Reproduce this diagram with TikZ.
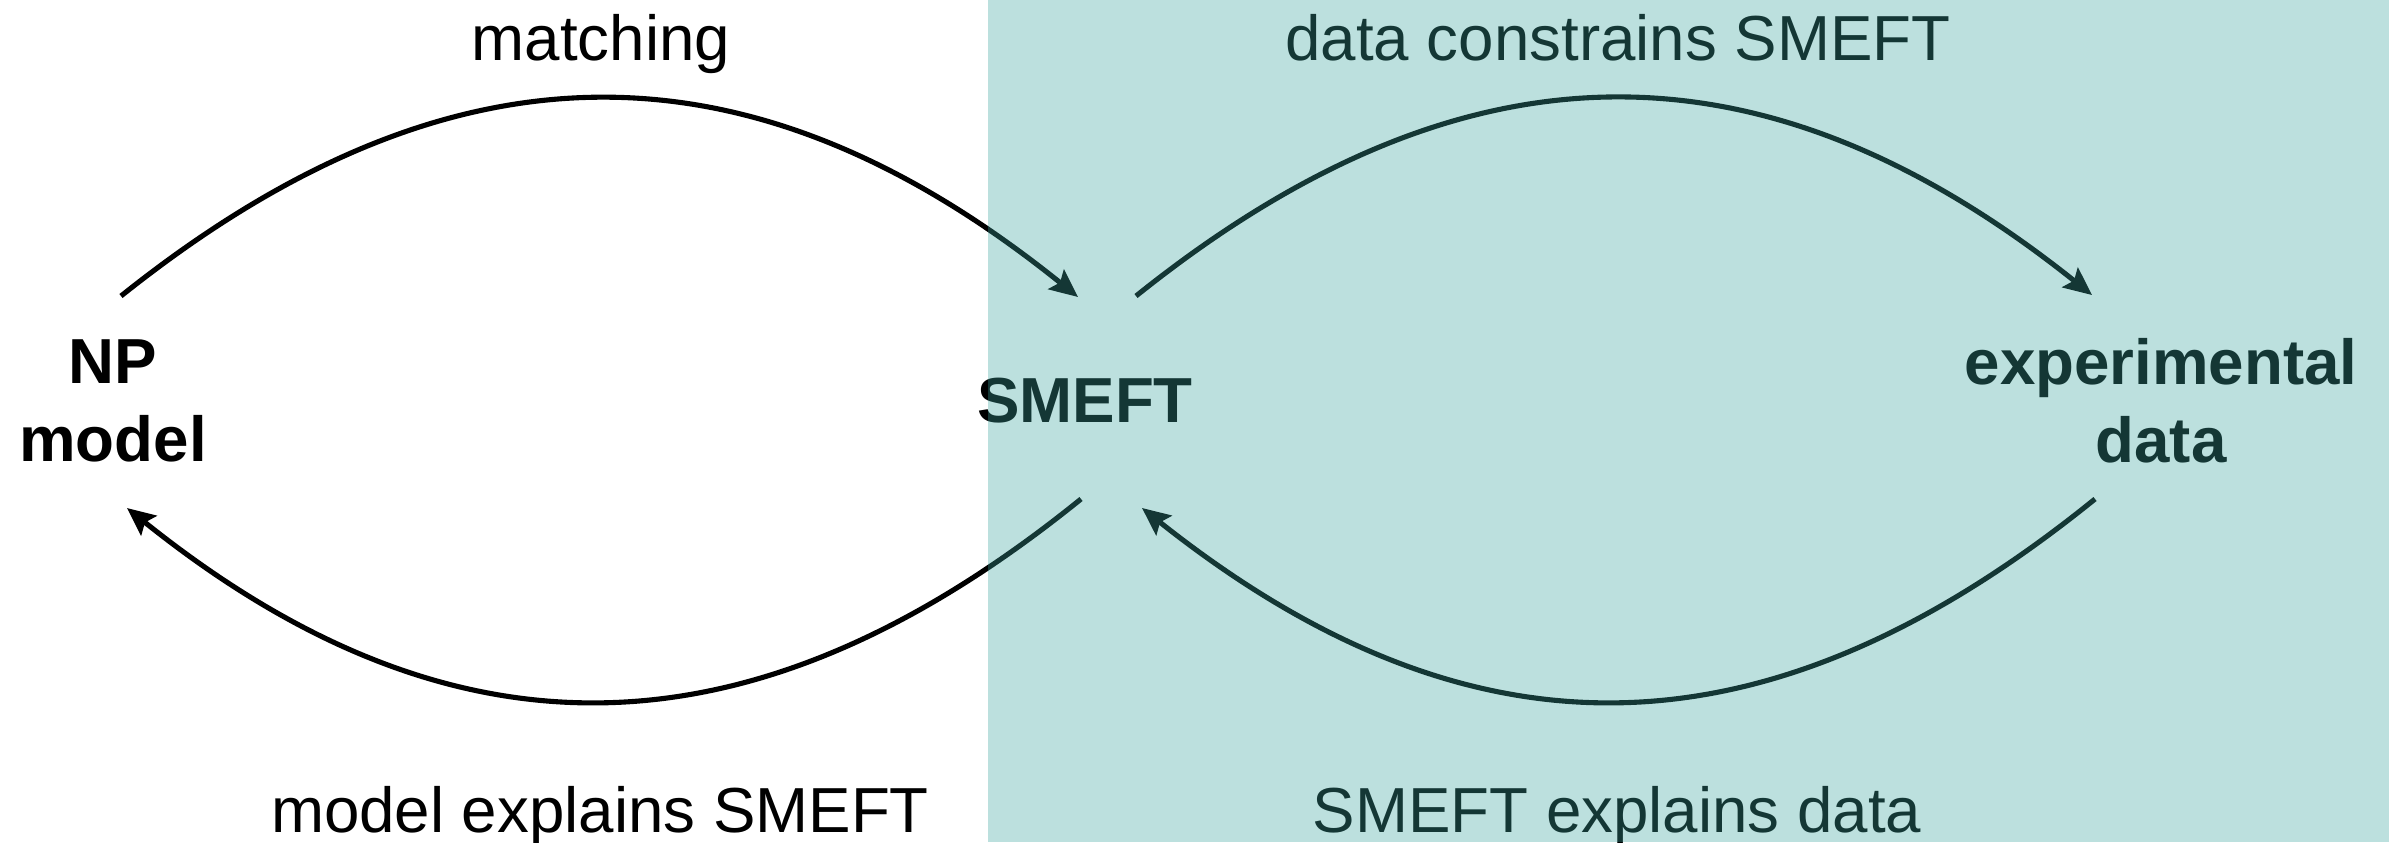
\documentclass[tikz,border=0pt]{standalone}
\usepackage{fontspec}
\setmainfont{Liberation Sans}
\usetikzlibrary{arrows.meta,calc}
\definecolor{tealwash}{RGB}{59,164,158}
\begin{document}
\begin{tikzpicture}[x=0.01cm,y=-0.01cm,
  term/.style={font=\fontsize{18.1}{22.2}\selectfont\bfseries, align=center, inner sep=0pt},
  caption/.style={font=\fontsize{18.1}{22}\selectfont, inner sep=0pt, anchor=base},
  flow/.style={line width=1.45pt, -{Stealth[length=0.28cm,width=0.25cm,inset=0.05cm]}}]
\useasboundingbox (0,0) rectangle (2394,842);

% the three stages
\node[term] (np) at (113,401) {NP\\model};
\node[term] (sm) at (1085,401) {SMEFT};
\node[term] (ex) at (2161,401) {experimental\\data};

% captions of the four arrows
\node[caption] (lmatch) at (601,60) {matching};
\node[caption] (lcons)  at (1618,60) {data constrains SMEFT};
\node[caption] (lmodel) at (600,832) {model explains SMEFT};
\node[caption] (lexpl)  at (1617,832) {SMEFT explains data};

% upper arcs
\draw[flow] ([shift={(8,-105)}]np.center)
  .. controls +(329,-263) and +(-328,-264) .. ([shift={(-7,-104)}]sm.center);
\draw[flow] ([shift={(51,-105)}]sm.center)
  .. controls +(328,-263) and +(-328,-262) .. ([shift={(-69,-106)}]ex.center);

% lower arcs
\draw[flow] ([shift={(-4,98)}]sm.center)
  .. controls +(-331,268) and +(323,259) .. ([shift={(14,107)}]np.center);
\draw[flow] ([shift={(-66,98)}]ex.center)
  .. controls +(-331,268) and +(326,259) .. ([shift={(57,107)}]sm.center);

% translucent panel over the right-hand side
\fill[tealwash, fill opacity=0.34] (988,0) rectangle (2389,842);
\end{tikzpicture}
\end{document}
